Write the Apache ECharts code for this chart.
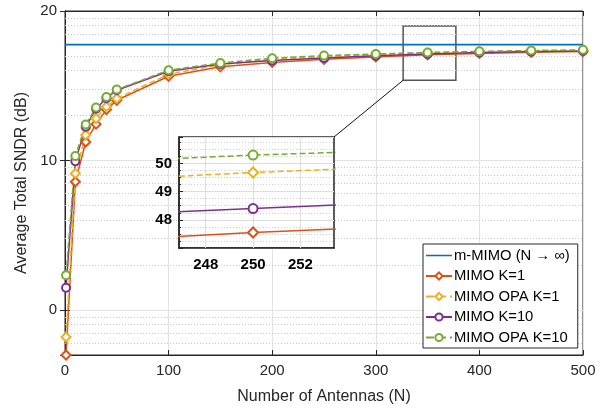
<!DOCTYPE html>
<html>
<head>
<meta charset="utf-8">
<script src="https://cdn.jsdelivr.net/npm/echarts@6/dist/echarts.min.js"></script>
<style>html,body{margin:0;padding:0;background:#fff}#main{width:615px;height:410px}</style>
</head>
<body>
<div id="main"></div>
<script>
// ---- data (linear SNDR values, axis labels show 10*log10) ----
const antennas = [1, 10, 20, 30, 40, 50, 100, 150, 200, 250, 300, 350, 400, 450, 500];
const mimoK1   = [0.5, 7.2, 13.3, 17.5, 21.9, 25.3, 36.6, 42.3, 45.3, 47.55, 49.3, 50.9, 52.0, 52.9, 53.6];
const opaK1    = [0.66, 8.2, 14.8, 19.1, 22.9, 26.0, 37.8, 43.7, 47.6, 49.68, 51.3, 52.5, 53.5, 54.1, 54.5];
const mimoK10  = [1.41, 9.9, 16.8, 22.2, 26.1, 29.5, 39.5, 44.2, 46.6, 48.4, 50.2, 51.6, 52.7, 53.5, 54.1];
const opaK10   = [1.71, 10.7, 17.4, 22.6, 26.6, 29.8, 40.2, 44.9, 48.36, 50.3, 51.6, 52.8, 53.7, 54.4, 55.0];
const mmimoN   = [0, 500];
const mmimoVal = [59.6, 59.6];
const seriesNames = ['m-MIMO (N \u2192 \u221E)', 'MIMO K=1', 'MIMO OPA K=1', 'MIMO K=10', 'MIMO OPA K=10'];
const minorGridY = [0.6, 0.7, 0.8, 0.9, 2, 3, 4, 5, 6, 7, 8, 9, 20, 30, 40, 50, 60, 70, 80, 90];
const zoomBoxX = [326.4, 377.3];
const zoomBoxY = [34.4, 79.4];
const insetX = [246.87, 253.42];
const insetXTicks = [248, 250, 252];
const insetY = [47.0, 50.94];

const pair = (xs, ys) => xs.map((x, i) => [x, ys[i]]);
const colors = ['#0072BD', '#D95319', '#EDB120', '#7E2F8E', '#77AC30'];
const FONT = 'Liberation Sans';
const axisCol = '#262626';

const chart = echarts.init(document.getElementById('main'), null, {renderer: 'canvas'});

const G = {left: 65, top: 11, right: 32, bottom: 55};
const GI = {left: 179, top: 137, width: 155, height: 111};

function dbLabel(v) {
  const l = Math.log10(v);
  return Math.abs(l - Math.round(l)) < 1e-6 ? String(10 * Math.round(l)) : '';
}

const curveDefs = [
  {name: seriesNames[1], data: mimoK1, color: colors[1], sym: 'emptyDiamond', dash: 'solid', size: 9},
  {name: seriesNames[2], data: opaK1, color: colors[2], sym: 'emptyDiamond', dash: 'dashed', size: 9},
  {name: seriesNames[3], data: mimoK10, color: colors[3], sym: 'emptyCircle', dash: 'solid', size: 8},
  {name: seriesNames[4], data: opaK10, color: colors[4], sym: 'emptyCircle', dash: 'dashed', size: 8}
];

const series = [{
  name: seriesNames[0], type: 'line', data: pair(mmimoN, mmimoVal),
  xAxisIndex: 0, yAxisIndex: 0, showSymbol: false, symbol: 'none',
  lineStyle: {color: colors[0], width: 1.6}, itemStyle: {color: colors[0]},
  z: 3,
  markLine: {
    silent: true, symbol: 'none', label: {show: false},
    lineStyle: {color: '#c8c8c8', type: [1, 2], width: 1},
    data: minorGridY.map(v => ({yAxis: v})),
    z: 1
  },
  markArea: {
    silent: true,
    itemStyle: {color: 'rgba(0,0,0,0)', borderColor: '#555', borderWidth: 1.5},
    data: [[{coord: [zoomBoxX[0], zoomBoxY[1]]}, {coord: [zoomBoxX[1], zoomBoxY[0]]}]]
  }
}];
curveDefs.forEach(c => {
  series.push({
    name: c.name, type: 'line', data: pair(antennas, c.data),
    xAxisIndex: 0, yAxisIndex: 0, symbol: c.sym, symbolSize: c.size,
    lineStyle: {color: c.color, width: 1.5, type: c.dash},
    itemStyle: {color: c.color, borderWidth: 1.5}, z: 4
  });
});
curveDefs.forEach((c, i) => {
  const s = {
    name: c.name, type: 'line', data: pair(antennas, c.data),
    xAxisIndex: 2, yAxisIndex: 2, symbol: c.sym, symbolSize: c.size + 1,
    lineStyle: {color: c.color, width: 1.5, type: c.dash},
    itemStyle: {color: c.color, borderWidth: 1.5}, z: 20, clip: true
  };
  if (i === 0) {
    s.markLine = {
      silent: true, symbol: 'none', label: {show: false},
      lineStyle: {color: '#dedede', type: 'solid', width: 1},
      data: insetXTicks.map(v => ({xAxis: v})), z: 15
    };
  }
  series.push(s);
});

const option = {
  animation: false,
  backgroundColor: '#fff',
  textStyle: {fontFamily: FONT},
  grid: [
    Object.assign({show: true, borderColor: axisCol, borderWidth: 1, backgroundColor: 'transparent', z: 0}, G),
    Object.assign({show: true, borderColor: axisCol, borderWidth: 1.5, backgroundColor: '#fff', z: 10}, GI)
  ],
  xAxis: [
    {type: 'value', gridIndex: 0, min: 0, max: 500, interval: 100,
     name: 'Number of Antennas (N)', nameLocation: 'middle', nameGap: 34,
     nameTextStyle: {fontSize: 16, color: axisCol, fontFamily: FONT},
     axisLine: {lineStyle: {color: axisCol}}, axisTick: {inside: true, length: 5, lineStyle: {color: axisCol}},
     axisLabel: {fontSize: 15, color: axisCol, margin: 8, fontFamily: FONT},
     splitLine: {show: true, lineStyle: {color: '#e3e3e3', width: 1}}},
    {type: 'value', gridIndex: 0, position: 'top', min: 0, max: 500, interval: 100,
     axisLine: {lineStyle: {color: axisCol}}, axisTick: {inside: true, length: 5, lineStyle: {color: axisCol}},
     axisLabel: {show: false}, splitLine: {show: false}},
    {type: 'value', gridIndex: 1, min: insetX[0], max: insetX[1],
     axisLine: {lineStyle: {color: axisCol, width: 1.5}},
     axisTick: {inside: true, length: 4, customValues: insetXTicks, lineStyle: {color: axisCol}},
     axisLabel: {fontSize: 15, fontWeight: 'bold', color: '#000', margin: 9, customValues: insetXTicks, fontFamily: FONT},
     splitLine: {show: false}, z: 12}
  ],
  yAxis: [
    {type: 'log', logBase: 10, gridIndex: 0, min: 0.5, max: 100,
     name: 'Average Total SNDR (dB)', nameLocation: 'middle', nameGap: 32, nameRotate: 90,
     nameTextStyle: {fontSize: 16, color: axisCol, fontFamily: FONT},
     axisLine: {lineStyle: {color: axisCol}}, axisTick: {inside: true, length: 5, lineStyle: {color: axisCol}},
     axisLabel: {fontSize: 15, color: axisCol, margin: 8, formatter: dbLabel, fontFamily: FONT},
     splitLine: {show: true, lineStyle: {color: '#e3e3e3', width: 1}}},
    {type: 'log', logBase: 10, gridIndex: 0, position: 'right', min: 0.5, max: 100,
     axisLine: {lineStyle: {color: axisCol}}, axisTick: {inside: true, length: 5, lineStyle: {color: axisCol}},
     axisLabel: {show: false}, splitLine: {show: false}},
    {type: 'value', gridIndex: 1, min: insetY[0], max: insetY[1], interval: 1,
     axisLine: {lineStyle: {color: axisCol, width: 1.5}}, axisTick: {inside: true, length: 4, lineStyle: {color: axisCol}},
     minorTick: {show: true, splitNumber: 4, length: 2, lineStyle: {color: axisCol}},
     minorSplitLine: {show: true, lineStyle: {color: '#cfcfcf', type: [1, 2]}},
     axisLabel: {fontSize: 15, fontWeight: 'bold', color: '#000', margin: 7, showMinLabel: false, showMaxLabel: false, fontFamily: FONT},
     splitLine: {show: true, lineStyle: {color: '#dedede'}}, z: 12}
  ],
  legend: {
    data: [
      {name: seriesNames[0], icon: 'path://M0,0 L27,0 L27,1.6 L0,1.6 Z'},
      seriesNames[1], seriesNames[2], seriesNames[3], seriesNames[4]
    ],
    orient: 'vertical', left: 423, top: 244,
    backgroundColor: '#fff', borderColor: axisCol, borderWidth: 1,
    padding: [4, 8, 3, 2], itemWidth: 26, itemHeight: 9, itemGap: 5.5,
    textStyle: {fontSize: 14.8, color: '#000', fontFamily: FONT, padding: [0, 0, 0, -3]},
    z: 30
  },
  series: series
};
chart.setOption(option);

// connector from zoom box to inset
const p0 = chart.convertToPixel({xAxisIndex: 0, yAxisIndex: 0}, [zoomBoxX[0], zoomBoxY[0]]);
chart.setOption({
  graphic: [{
    type: 'line', z: 25,
    shape: {x1: p0[0], y1: p0[1], x2: GI.left + GI.width, y2: GI.top},
    style: {stroke: '#111', lineWidth: 1}
  }]
});
</script>
</body>
</html>
